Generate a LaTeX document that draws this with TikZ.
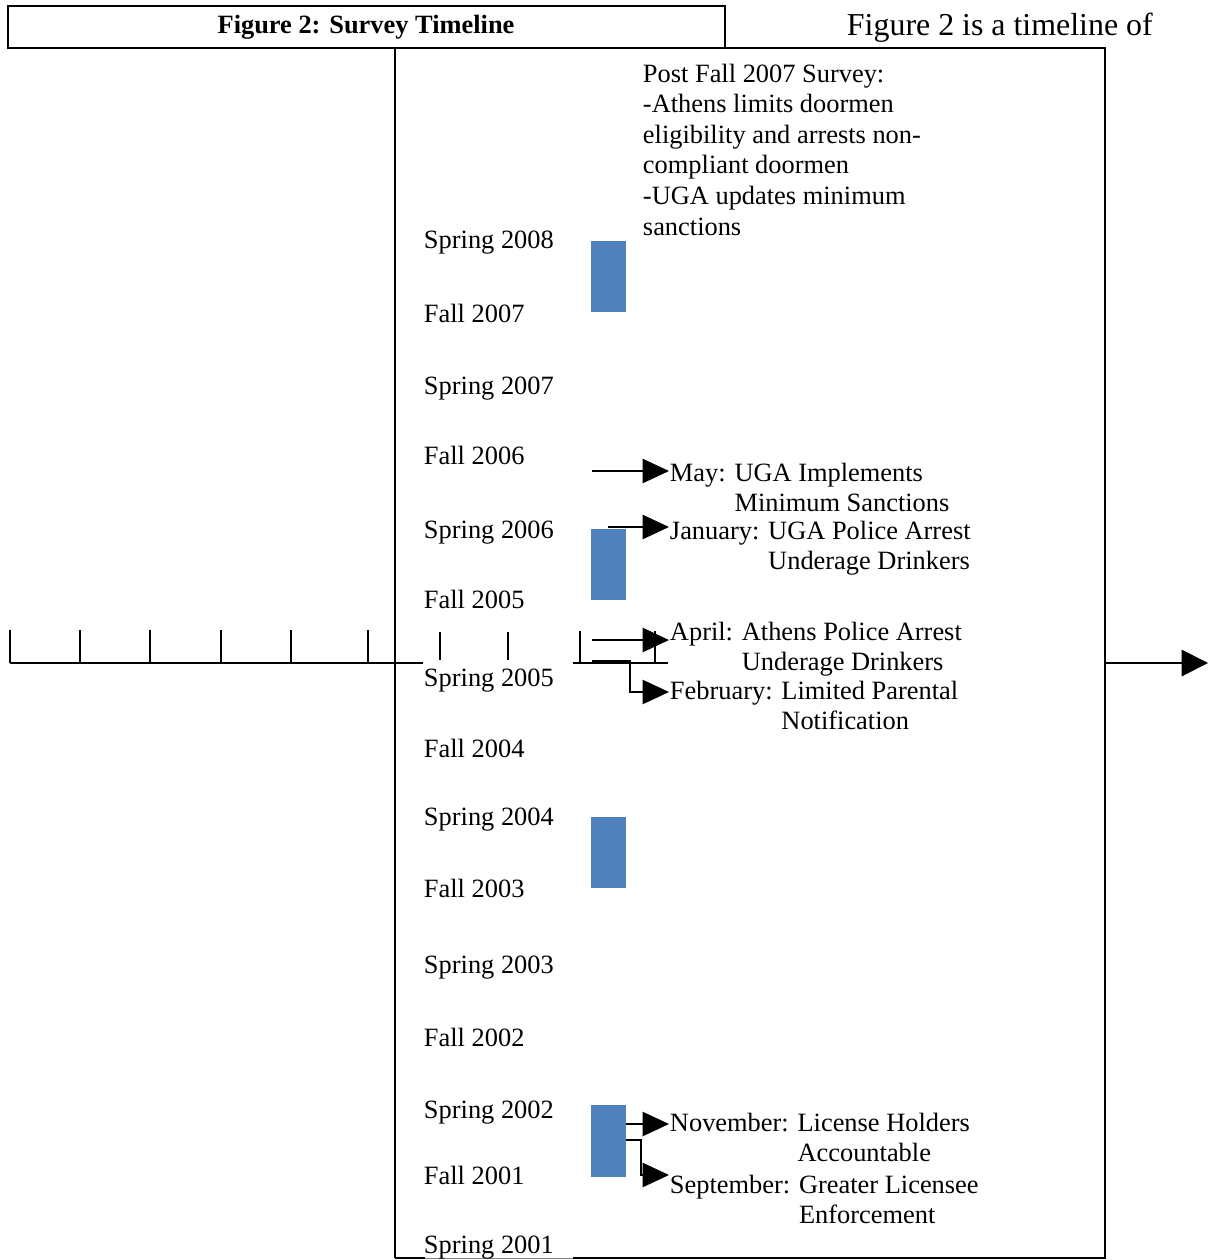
\documentclass[tikz,border=0pt]{standalone}
\usepackage{fontspec}
\setmainfont{Liberation Serif}
\usetikzlibrary{arrows.meta, positioning}
\definecolor{barblue}{RGB}{79, 129, 189}

\tikzset{
	txt/.style={anchor=base west, inner sep=0pt, font=\fontsize{12}{13.9}\selectfont},
	surveybar/.style={fill=barblue, draw=none, inner sep=0pt, minimum width=15.9pt, minimum height=32.5pt},
	evarrow/.style={-{Triangle[length=12pt, width=11pt]}},
}

% event label: month, first line, second line (hanging)
\newcommand{\evlabel}[3]{\begin{tabular}[t]{@{}l@{\hspace{4pt}}l@{}}#1:& #2\\& #3\end{tabular}}

\begin{document}
\begin{tikzpicture}[x=0.4545pt, y=-0.4545pt, line width=0.9pt]
	\useasboundingbox (0,0) rectangle (1208,1260);
	
	% title bar
	\draw (8,6) rectangle (725,48);
	\node[anchor=base, inner sep=0pt, font=\fontsize{12}{14}\selectfont\bfseries] (title) at (366,33) {Figure 2: Survey Timeline};
	\node[txt, font=\fontsize{14.5}{17}\selectfont] (intro) at (846,35) {Figure 2 is a timeline of};
	
	% frame
	\draw (395,1258) -- (395,48) -- (1105,48) -- (1105,1258) -- (573,1258);
	\draw (395,1258) -- (425,1258);
	\draw[gray, line width=0.4pt] (425,1258) -- (573,1258);
	
	% time axis
	\draw (10,663) -- (423,663);
	\foreach \x in {10,80,150,221,291,368}
		\draw (\x,630) -- (\x,663);
	\foreach \x in {440,508}
		\draw (\x,632) -- (\x,660);
	\draw (573,663) -- (668,663);
	\foreach \x in {580,655}
		\draw (\x,631) -- (\x,663);
	\coordinate (axisout) at (1105,663);
	\coordinate (axisend) at (1208,663);
	\draw[-{Triangle[length=12pt, width=12pt]}] (axisout) -- (axisend);
	
	% semesters
	\foreach \y/\sem in {
		248/Spring 2008, 322/Fall 2007, 394/Spring 2007, 464/Fall 2006,
		538/Spring 2006, 608/Fall 2005, 686/Spring 2005, 757/Fall 2004,
		825/Spring 2004, 897/Fall 2003, 973/Spring 2003, 1046/Fall 2002,
		1118/Spring 2002, 1184/Fall 2001, 1253/Spring 2001
	}{
		\node[txt] (sem\y) at (423,\y) {\sem};
	}
	
	% survey bars
	\node[surveybar] (svy2007) at (608.5,276.5) {};
	\node[surveybar] (svy2005) at (608.5,564.5) {};
	\node[surveybar] (svy2003) at (608.5,852.5) {};
	\node[surveybar] (svy2001) at (608.5,1141) {};
	
	% post survey notes (base = last line)
	\node[txt, align=left] (post) at (642,235) {Post Fall 2007 Survey:\\-Athens limits doormen\\eligibility and arrests non-\\compliant doormen\\-UGA updates minimum\\sanctions};
	
	% events
	\node[txt] (may) at (669,481) {\evlabel{May}{UGA Implements}{Minimum Sanctions}};
	\node[txt] (jan) at (669,539) {\evlabel{January}{UGA Police Arrest}{Underage Drinkers}};
	\node[txt] (apr) at (669,640) {\evlabel{April}{Athens Police Arrest}{Underage Drinkers}};
	\node[txt] (feb) at (669,699) {\evlabel{February}{Limited Parental}{Notification}};
	\node[txt] (nov) at (669,1131) {\evlabel{November}{License Holders}{Accountable}};
	\node[txt] (sep) at (669,1193) {\evlabel{September}{Greater Licensee}{Enforcement}};
	
	% event arrows
	\coordinate (mayfrom) at (592,471);
	\coordinate (janfrom) at (608,527);
	\coordinate (aprfrom) at (592,640);
	\coordinate (febfrom) at (592,661);
	\coordinate (febknee) at (630,692);
	\coordinate (novfrom) at (626,1124);
	\coordinate (sepfrom) at (626,1140);
	\coordinate (sepknee) at (641,1175);
	\draw[evarrow] (mayfrom) -- (mayfrom -| may.base west);
	\draw[evarrow] (janfrom) -- (janfrom -| jan.base west);
	\draw[evarrow] (aprfrom) -- (aprfrom -| apr.base west);
	\draw[evarrow] (febfrom) -| (febknee) -- (febknee -| feb.base west);
	\draw[evarrow] (novfrom) -- (novfrom -| nov.base west);
	\draw[evarrow] (sepfrom) -| (sepknee) -- (sepknee -| sep.base west);
	
\end{tikzpicture}
\end{document}
